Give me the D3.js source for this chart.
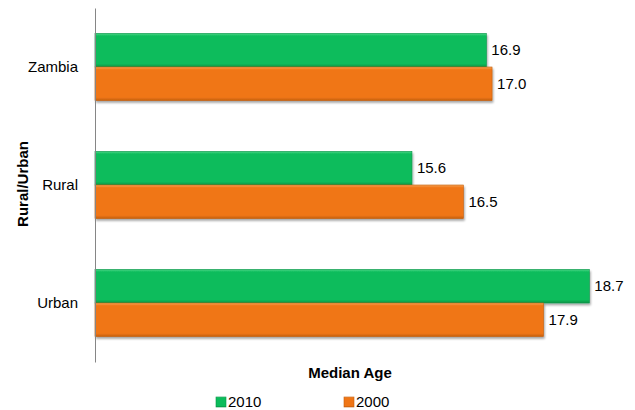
<!DOCTYPE html>
<html><head><meta charset="utf-8">
<script src="https://cdn.jsdelivr.net/npm/d3@7"></script>
<style>body{margin:0;background:#fff}svg{display:block}text{font-family:"Liberation Sans",Arial,sans-serif;fill:#000}</style>
</head><body>
<svg id="c" width="635" height="410"></svg>
<script>
const categories = ["Zambia", "Rural", "Urban"];
const seriesNames = ["2010", "2000"];
const values2010 = [16.9, 15.6, 18.7];
const values2000 = [17.0, 16.5, 17.9];
const xDomain = [10, 19];

(function(){
const svg = d3.select("#c");
const defs = svg.append("defs");
const colors = {"2010": {base:"#0bbc5b", light:"#4fd688", dark:"#089447"},
                "2000": {base:"#f07616", light:"#f7a457", dark:"#c45f0e"}};
seriesNames.forEach(s => {
  const g = defs.append("linearGradient").attr("id","g"+s).attr("x1",0).attr("y1",0).attr("x2",0).attr("y2",1);
  g.append("stop").attr("offset","0%").attr("stop-color",colors[s].light);
  g.append("stop").attr("offset","8%").attr("stop-color",colors[s].base);
  g.append("stop").attr("offset","90%").attr("stop-color",colors[s].base);
  g.append("stop").attr("offset","100%").attr("stop-color",colors[s].dark);
});
const f = defs.append("filter").attr("id","sh").attr("x","-5%").attr("y","-20%").attr("width","115%").attr("height","160%");
f.append("feGaussianBlur").attr("in","SourceAlpha").attr("stdDeviation",1.2);
f.append("feOffset").attr("dx",1).attr("dy",2).attr("result","ob");
f.append("feComponentTransfer").append("feFuncA").attr("type","linear").attr("slope",0.35);
const m = f.append("feMerge"); m.append("feMergeNode"); m.append("feMergeNode").attr("in","SourceGraphic");

const mLeft = 95, mTop = 8, mBottom = 362;
const x = d3.scaleLinear().domain(xDomain).range([91.5, 606.5]);
const y = d3.scaleBand().domain(categories).range([mTop, mBottom]).paddingInner(0.43).paddingOuter(0.215);
const ys = d3.scaleBand().domain(seriesNames).range([0, y.bandwidth()]);

const data = categories.map((c,i)=>({cat:c, vals:[{s:"2010",v:values2010[i]},{s:"2000",v:values2000[i]}]}));
const groups = svg.append("g").selectAll("g").data(data).join("g")
  .attr("transform", d=>`translate(0,${y(d.cat)})`);
groups.selectAll("rect").data(d=>d.vals).join("rect")
  .attr("x", mLeft)
  .attr("y", d=>ys(d.s))
  .attr("height", ys.bandwidth())
  .attr("width", d=>x(d.v)-mLeft)
  .attr("fill", d=>`url(#g${d.s})`)
  .attr("stroke", d=>colors[d.s].dark).attr("stroke-width",0.6)
  .attr("filter","url(#sh)");
groups.selectAll("text.v").data(d=>d.vals).join("text").attr("class","v")
  .attr("x", d=>x(d.v)+5)
  .attr("y", d=>ys(d.s)+ys.bandwidth()/2)
  .attr("dy","0.35em")
  .attr("font-size",15)
  .text(d=>d.v.toFixed(1));

const yAxis = d3.axisLeft(y).tickSize(0).tickPadding(17);
const ya = svg.append("g").attr("transform",`translate(${mLeft},0)`).call(yAxis);
ya.select(".domain").attr("stroke","#868686").attr("stroke-width",1);
ya.selectAll("text").attr("font-size",15).attr("font-family","Liberation Sans, Arial, sans-serif").attr("fill","#000");

svg.append("text").attr("transform","translate(28,184) rotate(-90)")
  .attr("text-anchor","middle").attr("font-weight","bold").attr("font-size",15).text("Rural/Urban");
svg.append("text").attr("x",350).attr("y",378).attr("text-anchor","middle")
  .attr("font-weight","bold").attr("font-size",15).text("Median Age");

const legX = [216, 344];
seriesNames.forEach((s,i)=>{
  svg.append("rect").attr("x",legX[i]).attr("y",397).attr("width",10).attr("height",10)
    .attr("fill",`url(#g${s})`).attr("stroke",colors[s].dark).attr("stroke-width",0.6);
  svg.append("text").attr("x",legX[i]+12).attr("y",402).attr("dy","0.35em").attr("font-size",15).text(s);
});
})();
</script>
</body></html>
